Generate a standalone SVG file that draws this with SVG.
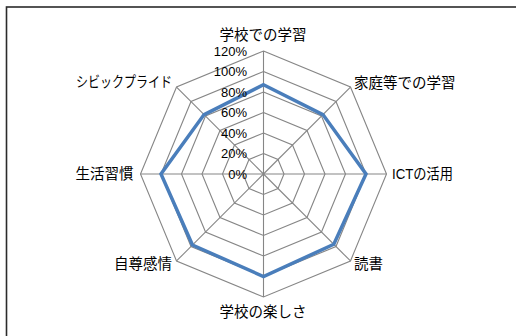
<svg xmlns="http://www.w3.org/2000/svg" width="516" height="336" viewBox="0 0 516 336">
  <style>
    .ring { fill: none; stroke: #868686; stroke-width: 1.1; }
    .spoke { stroke: #868686; stroke-width: 1.1; }
    .tick { font-family: "Liberation Sans", Arial, sans-serif; font-size: 13px; fill: #000; text-anchor: end; dominant-baseline: central; }
    .cat { font-family: "Liberation Sans", "Noto Sans CJK JP", sans-serif; font-size: 14.5px; fill: #000; dominant-baseline: central; }
    .series { fill: none; stroke: #4a7ebb; stroke-width: 3.5; stroke-linejoin: miter; }
  </style>
  <rect x="0" y="0" width="516" height="336" fill="#fff"/>
  <rect id="frame" x="6.5" y="7" width="520" height="340" fill="none" stroke="#2b2b2b" stroke-width="1.6"/>

  <g id="grid">
    <polygon class="ring" points="263.5,51 350.47,87.03 386.5,174 350.47,260.97 263.5,297 176.53,260.97 140.5,174 176.53,87.03"/>
    <polygon class="ring" points="263.5,71.5 335.98,101.52 366,174 335.98,246.48 263.5,276.5 191.02,246.48 161,174 191.02,101.52"/>
    <polygon class="ring" points="263.5,92 321.48,116.02 345.5,174 321.48,231.98 263.5,256 205.52,231.98 181.5,174 205.52,116.02"/>
    <polygon class="ring" points="263.5,112.5 306.99,130.51 325,174 306.99,217.49 263.5,235.5 220.01,217.49 202,174 220.01,130.51"/>
    <polygon class="ring" points="263.5,133 292.49,145.01 304.5,174 292.49,202.99 263.5,215 234.51,202.99 222.5,174 234.51,145.01"/>
    <polygon class="ring" points="263.5,153.5 278,159.5 284,174 278,188.5 263.5,194.5 249,188.5 243,174 249,159.5"/>
  </g>

  <g id="connectors">
    <line class="spoke" x1="263.5" y1="174" x2="263.5" y2="51"/>
    <line class="spoke" x1="263.5" y1="174" x2="350.47" y2="87.03"/>
    <line class="spoke" x1="263.5" y1="174" x2="386.5" y2="174"/>
    <line class="spoke" x1="263.5" y1="174" x2="350.47" y2="260.97"/>
    <line class="spoke" x1="263.5" y1="174" x2="263.5" y2="297"/>
    <line class="spoke" x1="263.5" y1="174" x2="176.53" y2="260.97"/>
    <line class="spoke" x1="263.5" y1="174" x2="140.5" y2="174"/>
    <line class="spoke" x1="263.5" y1="174" x2="176.53" y2="87.03"/>
  </g>

  <g id="series">
    <polygon class="series" points="263.5,84.8 322.93,114.57 366,174 333.8,244.3 263.5,276.5 192.47,245.03 161,174 204.07,114.57"/>
  </g>

  <g id="ticks">
    <text class="tick" x="247" y="51">120%</text>
    <text class="tick" x="247" y="71.5">100%</text>
    <text class="tick" x="247" y="92">80%</text>
    <text class="tick" x="247" y="112.5">60%</text>
    <text class="tick" x="247" y="133">40%</text>
    <text class="tick" x="247" y="153.5">20%</text>
    <text class="tick" x="247" y="174">0%</text>
  </g>

  <g id="label-n"><text class="cat" x="263" y="34.5" text-anchor="middle">学校での学習</text></g>
  <g id="label-ne"><text class="cat" x="354" y="82.5">家庭等での学習</text></g>
  <g id="label-e"><text class="cat" x="392" y="174" textLength="61" lengthAdjust="spacingAndGlyphs">ICTの活用</text></g>
  <g id="label-se"><text class="cat" x="354" y="264">読書</text></g>
  <g id="label-s"><text class="cat" x="263" y="312" text-anchor="middle">学校の楽しさ</text></g>
  <g id="label-sw"><text class="cat" x="172" y="264" text-anchor="end">自尊感情</text></g>
  <g id="label-w"><text class="cat" x="133.5" y="174" text-anchor="end">生活習慣</text></g>
  <g id="label-nw"><text class="cat" x="76" y="82" textLength="96" lengthAdjust="spacingAndGlyphs">シビックプライド</text></g>
</svg>
